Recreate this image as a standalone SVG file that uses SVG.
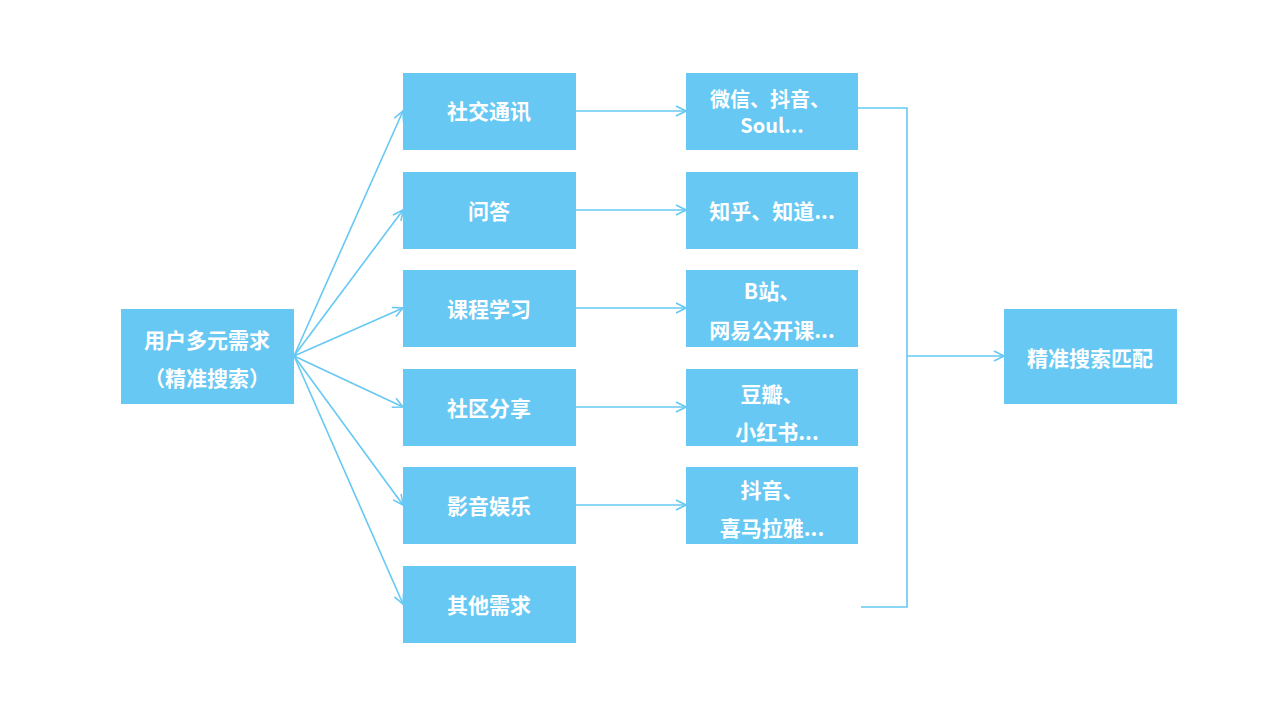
<svg xmlns="http://www.w3.org/2000/svg" width="1276" height="716" viewBox="0 0 1276 716">
<style>
.box{fill:#66c8f3}
.t{fill:#fff;font-family:"Noto Sans CJK SC","Noto Sans",sans-serif;font-weight:bold;font-size:21px;text-anchor:middle;dominant-baseline:central}
.s{font-size:20px}
.c{stroke:#66c8f3;stroke-width:1.6;fill:none}
</style>
<defs>
<marker id="ah" viewBox="0 0 12 12" refX="11" refY="6" markerWidth="12" markerHeight="12" markerUnits="userSpaceOnUse" orient="auto">
<path d="M1,1 L11,6 L1,11" fill="none" stroke="#66c8f3" stroke-width="1.6"/>
</marker>
</defs>
<rect width="1276" height="716" fill="#fff"/>
<g id="connectors">
<line class="c" x1="294" y1="356" x2="403" y2="111" marker-end="url(#ah)"/>
<line class="c" x1="294" y1="356" x2="403" y2="210" marker-end="url(#ah)"/>
<line class="c" x1="294" y1="356" x2="403" y2="308" marker-end="url(#ah)"/>
<line class="c" x1="294" y1="356" x2="403" y2="407" marker-end="url(#ah)"/>
<line class="c" x1="294" y1="356" x2="403" y2="505" marker-end="url(#ah)"/>
<line class="c" x1="294" y1="356" x2="403" y2="604" marker-end="url(#ah)"/>
<line class="c" x1="576" y1="111" x2="686" y2="111" marker-end="url(#ah)"/>
<line class="c" x1="576" y1="210" x2="686" y2="210" marker-end="url(#ah)"/>
<line class="c" x1="576" y1="308" x2="686" y2="308" marker-end="url(#ah)"/>
<line class="c" x1="576" y1="407" x2="686" y2="407" marker-end="url(#ah)"/>
<line class="c" x1="576" y1="505" x2="686" y2="505" marker-end="url(#ah)"/>
<polyline class="c" points="858,108 907,108 907,607 861,607"/>
<line class="c" x1="907" y1="356" x2="1004" y2="356" marker-end="url(#ah)"/>
</g>
<g id="n-root"><rect class="box" x="121" y="309" width="173" height="95"/><text class="t" x="207" y="339">用户多元需求</text><text class="t" x="207" y="377">（精准搜索）</text></g>
<g id="n-social"><rect class="box" x="403" y="73" width="173" height="77"/><text class="t" x="489" y="110">社交通讯</text></g>
<g id="n-qa"><rect class="box" x="403" y="172" width="173" height="77"/><text class="t" x="489" y="210">问答</text></g>
<g id="n-course"><rect class="box" x="403" y="270" width="173" height="77"/><text class="t" x="489" y="308">课程学习</text></g>
<g id="n-community"><rect class="box" x="403" y="369" width="173" height="77"/><text class="t" x="489" y="407">社区分享</text></g>
<g id="n-media"><rect class="box" x="403" y="467" width="173" height="77"/><text class="t" x="489" y="505">影音娱乐</text></g>
<g id="n-other"><rect class="box" x="403" y="566" width="173" height="77"/><text class="t" x="489" y="604">其他需求</text></g>
<g id="n-r1"><rect class="box" x="686" y="73" width="172" height="77"/><text class="t s" x="770" y="98">微信、抖音、</text><text class="t s" x="772" y="124">Soul...</text></g>
<g id="n-r2"><rect class="box" x="686" y="172" width="172" height="77"/><text class="t" x="772" y="210">知乎、知道...</text></g>
<g id="n-r3"><rect class="box" x="686" y="270" width="172" height="77"/><text class="t" x="772" y="290">B站、</text><text class="t" x="772" y="329">网易公开课...</text></g>
<g id="n-r4"><rect class="box" x="686" y="369" width="172" height="77"/><text class="t" x="772" y="393">豆瓣、</text><text class="t" x="777" y="431">小红书...</text></g>
<g id="n-r5"><rect class="box" x="686" y="467" width="172" height="77"/><text class="t" x="772" y="489">抖音、</text><text class="t" x="772" y="527">喜马拉雅...</text></g>
<g id="n-final"><rect class="box" x="1004" y="309" width="173" height="95"/><text class="t" x="1090" y="357">精准搜索匹配</text></g>
</svg>
